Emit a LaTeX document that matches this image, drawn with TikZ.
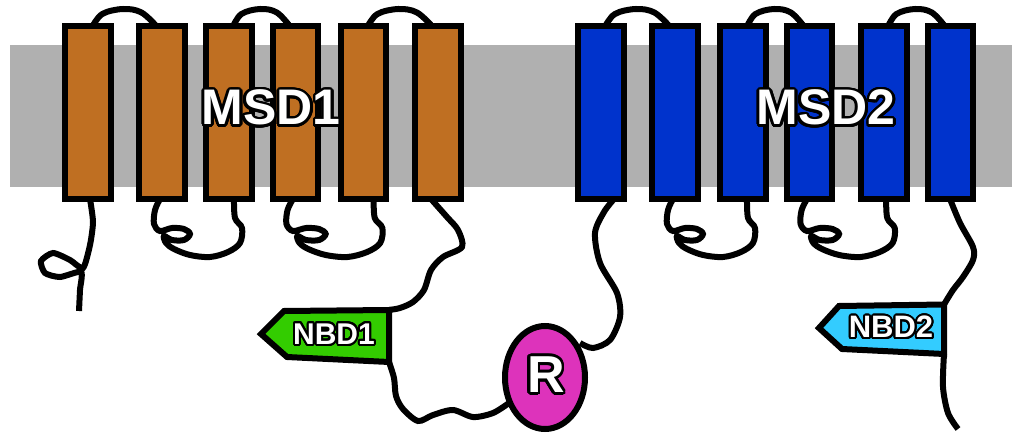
\documentclass[tikz,border=0pt]{standalone}
\usepackage{fontspec}
\setmainfont{Liberation Sans}
\usepackage{contour}
\contournumber{24}
\usetikzlibrary{shapes.geometric}

\definecolor{membrane}{HTML}{B0B0B0}
\definecolor{msdone}{HTML}{BF6F22}
\definecolor{msdtwo}{HTML}{0033CC}
\definecolor{nbdone}{HTML}{33CC00}
\definecolor{nbdtwo}{HTML}{33CCFF}
\definecolor{rdom}{HTML}{DD33BB}

\tikzset{
  strand/.style={draw=black, line width=6pt, line join=miter},
  helix/.style={draw=black, line width=6pt, minimum width=45.5pt,
                minimum height=172.4pt, inner sep=0pt},
  nbd/.style={draw=black, line width=6pt, line join=miter},
  lbl/.style={text=white, inner sep=0pt},
}

% extracellular loop between two helices (centre x of left and right helix)
\newcommand{\tmloop}[2]{%
  \draw[strand] plot[smooth, tension=0.6] coordinates {
    ({#1+4},27) ({#1+0.19*(#2-#1)},14) ({#1+0.47*(#2-#1)},9)
    ({#1+0.72*(#2-#1)},12.5) ({#2-5},27)};}

% intracellular loop with a small curl (start x, horizontal stretch)
\newcommand{\icloop}[2]{%
  \draw[strand] plot[smooth, tension=0.55] coordinates {
    ({#1},199) ({#1-5*#2},210) ({#1-6*#2},224) ({#1+0*#2},231)
    ({#1+12*#2},228) ({#1+24*#2},229) ({#1+30*#2},234) ({#1+24*#2},240)
    ({#1+12*#2},240) ({#1+4*#2},236) ({#1+6*#2},243) ({#1+14*#2},249)
    ({#1+30*#2},255) ({#1+50*#2},257) ({#1+68*#2},252) ({#1+80*#2},243)
    ({#1+82*#2},228) ({#1+75*#2},218) ({#1+74*#2},199)};}

\begin{document}
\begin{tikzpicture}[x=1pt, y=-1pt]
\useasboundingbox (0,0) rectangle (1012,433);

% lipid bilayer
\fill[membrane] (10,45) rectangle (1012,187);

% extracellular loops
\tmloop{88.2}{162.2}
\tmloop{228.8}{295.5}
\tmloop{363.3}{437.8}
\tmloop{600.8}{675.2}
\tmloop{742.8}{809.5}
\tmloop{883.8}{950.5}

% intracellular loops
\icloop{160}{1.0}
\icloop{293}{1.09}
\icloop{673}{1.0}
\icloop{807}{1.07}

% N-terminus with its curl
\draw[strand] plot[smooth, tension=0.4] coordinates {
  (90,199) (93,222) (90,245) (83,268) (70,260) (53,253) (41,261)
  (45,273) (60,277) (81,272) (80,290) (79,311)};

% helix 6 to NBD1
\coordinate (nbd1top) at (389,310);
\draw[strand] plot[smooth, tension=0.5] coordinates {
  (431,199) (447,217) (458,230) (462,247) (443,257) (431,270)
  (424,290) (413,302) (400,308) (nbd1top)};

% NBD1 to R
\coordinate (nbd1bot) at (389,362);
\coordinate (ronein) at (509,403);
\draw[strand] plot[smooth, tension=0.5] coordinates {
  (nbd1bot) (394,378) (396,396) (403,409) (418,421) (433,415)
  (453,410) (473,417) (493,413) (ronein)};

% R to helix 7
\coordinate (routa) at (580,343);
\draw[strand] plot[smooth, tension=0.5] coordinates {
  (routa) (593,348) (610,340) (620,317) (617,293) (600,263)
  (595,233) (604,212) (614,199)};

% helix 12 to NBD2
\coordinate (nbd2top) at (944,304.5);
\draw[strand] plot[smooth, tension=0.5] coordinates {
  (950,199) (960,223) (973,247) (973,260) (963,277) (953,290) (nbd2top)};

% C-terminus
\coordinate (nbd2bot) at (944,354);
\coordinate (cterm) at (958,429);
\draw[strand] plot[smooth, tension=0.5] coordinates {
  (nbd2bot) (943,387) (948,413) (cterm)};

% membrane-spanning helices
\foreach \cx [count=\i] in {88.2,162.2,228.8,295.5,363.3,437.8}
  \node[helix, fill=msdone] (h\i) at (\cx,112.5) {};
\foreach \cx [count=\i from 7] in {600.8,675.2,742.8,809.5,883.8,950.5}
  \node[helix, fill=msdtwo] (h\i) at (\cx,112.5) {};

% nucleotide-binding domains
\draw[nbd, fill=nbdone] (261,334) -- (284,311) -- (nbd1top) -- (nbd1bot)
  -- (287,357) -- cycle;
\draw[nbd, fill=nbdtwo] (819,328) -- (839,306) -- (nbd2top) -- (nbd2bot)
  -- (842,349) -- cycle;

% regulatory domain
\node[draw=black, line width=6pt, fill=rdom, ellipse, minimum width=80pt,
      minimum height=103pt, inner sep=0pt] (rdomain) at (545,377.5) {};

% labels: white bold face with a black rim
\contourlength{2.6pt}
\node[lbl] (msdonelbl) at (271,109) {\fontsize{50}{50}\selectfont\bfseries\contour{black}{MSD1}};
\node[lbl] (msdtwolbl) at (826,109) {\fontsize{50}{50}\selectfont\bfseries\contour{black}{MSD2}};
\node[lbl] (rlbl) at (546,376) {\fontsize{52}{52}\selectfont\bfseries\contour{black}{R}};
\node[lbl] (nbdonelbl) at (334,335) {\fontsize{30}{30}\selectfont\bfseries\contourlength{2pt}\contour{black}{NBD1}};
\node[lbl] (nbdtwolbl) at (891,328) {\fontsize{31}{31}\selectfont\bfseries\contourlength{2pt}\contour{black}{NBD2}};
\end{tikzpicture}
\end{document}
